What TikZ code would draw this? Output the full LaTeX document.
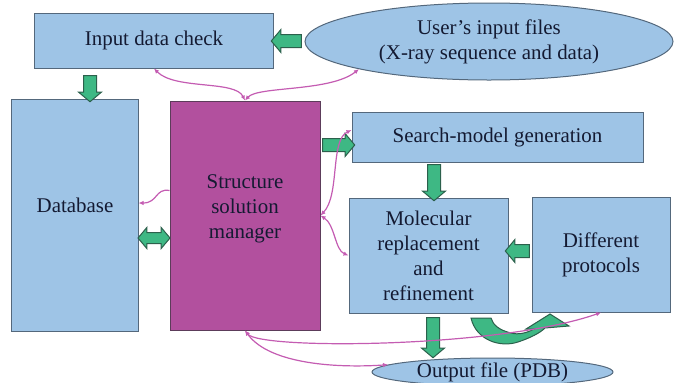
\documentclass[tikz,border=0pt]{standalone}
\usepackage{fontspec}
\setmainfont{Liberation Serif}
\usetikzlibrary{shapes.geometric,shapes.arrows,arrows.meta,calc}

\definecolor{boxblue}{RGB}{158,196,230}
\definecolor{boxedge}{RGB}{84,104,124}
\definecolor{mgrbox}{RGB}{178,80,158}
\definecolor{mgredge}{RGB}{92,60,90}
\definecolor{flowgreen}{RGB}{62,184,132}
\definecolor{flowedge}{RGB}{44,96,76}
\definecolor{linkpink}{RGB}{196,92,178}
\definecolor{inktext}{RGB}{20,26,50}

\begin{document}
\begin{tikzpicture}[x=1bp,y=-1bp,
  every node/.style={font=\fontsize{21}{25}\selectfont, text=inktext, align=center},
  bluebox/.style={draw=boxedge, line width=1bp, fill=boxblue, inner sep=0pt},
  mgrbox/.style={draw=mgredge, line width=1bp, fill=mgrbox, inner sep=0pt},
  blueoval/.style={ellipse, draw=boxedge, line width=1bp, fill=boxblue, inner sep=0pt},
  flowarrow/.style={single arrow, draw=flowedge, line width=1bp, fill=flowgreen,
    inner xsep=0pt, inner ysep=6bp, minimum width=0pt,
    single arrow head extend=5bp, single arrow tip angle=100},
  flowdouble/.style={double arrow, draw=flowedge, line width=1bp, fill=flowgreen,
    inner xsep=0pt, inner ysep=5bp, minimum width=0pt,
    double arrow head extend=5bp, double arrow tip angle=100},
  link/.style={draw=linkpink, line width=1.2bp,
    {Latex[length=5bp,width=4.5bp]}-{Latex[length=5bp,width=4.5bp]}},
  linkto/.style={draw=linkpink, line width=1.2bp, -{Latex[length=5bp,width=4.5bp]}}
]
\useasboundingbox (0,0) rectangle (675,382);

% boxes
\node[bluebox, minimum width=238bp, minimum height=55bp] (check) at (154,40.5) {Input data check};
\node[blueoval, minimum width=368bp, minimum height=77bp] (users) at (489,41.5)
  {User's input files\\(X-ray sequence and data)};
\node[bluebox, minimum width=126bp, minimum height=232bp,
  label={[yshift=10bp]center:Database}] (db) at (75,215) {};
\node[mgrbox, minimum width=150bp, minimum height=229bp,
  label={[yshift=7bp]center:Structure\\solution\\manager}] (ssm) at (245,215.5) {};
\node[bluebox, minimum width=291bp, minimum height=50bp] (search) at (497.5,137) {Search-model generation};
\node[bluebox, minimum width=159bp, minimum height=115bp] (mol) at (428.5,255.5)
  {Molecular\\replacement\\and\\refinement};
\node[bluebox, minimum width=138bp, minimum height=115bp] (diff) at (601,254.5)
  {Different\\protocols};
\node[blueoval, minimum width=241bp, minimum height=28bp] (out) at (492.5,372)
  {Output file (PDB)};

% thick flow arrows between boxes
\node[flowarrow, rotate=180, minimum height=30bp] (a1) at ($(users.west)!0.5!(check.east)$) {};
\node[flowarrow, rotate=-90, minimum height=26bp] (a2) at (90,86) {};
\node[flowarrow, minimum height=32bp] (a3) at (336,145) {};
\node[flowarrow, rotate=-90, minimum height=36bp] (a4) at (434,180) {};
\node[flowarrow, rotate=180, minimum height=24bp] (a5) at (520,251) {};
\node[flowdouble, minimum height=32bp] (a6) at (154,238) {};
\node[flowarrow, rotate=-90, minimum height=40bp] (a7) at (433,335) {};

% curved return arrow under the refinement box
\draw[draw=flowedge, line width=1bp, fill=flowgreen]
  (471,318) .. controls (476,340) and (500,348) .. (518,342)
  .. controls (530,338) and (540,333) .. (545,328)
  -- (569,326) -- (550,314) -- (526,329) -- (534,329)
  .. controls (527,333) and (518,335) .. (511,333)
  .. controls (499,330) and (493,325) .. (491,318) -- cycle;

% control links of the manager
\draw[link] (check.south) .. controls (175,90) and (235,80) .. (ssm.north);
\draw[link] (ssm.north) .. controls (258,86) and (330,92) .. (users.192);
\draw[linkto] ($(ssm.west)+(0,-25)$) .. controls (155,188) and (158,203) .. ($(db.east)+(0,-12)$);
\draw[link] (ssm.east) .. controls (340,195) and (330,140) .. ($(search.west)+(0,-7)$);
\draw[link] (ssm.east) .. controls (335,225) and (335,250) .. (mol.west);
\draw[link] (ssm.south) .. controls (270,365) and (340,368) .. (out.176);
\draw[link] (ssm.south) .. controls (260,350) and (500,348) .. (diff.south);
\end{tikzpicture}
\end{document}
